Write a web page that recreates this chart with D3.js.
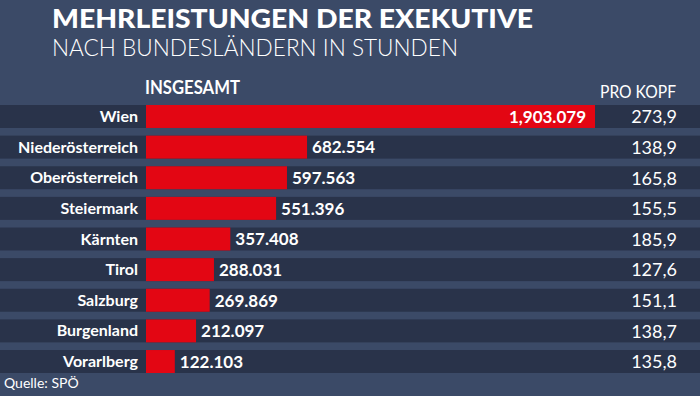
<!DOCTYPE html>
<html>
<head>
<meta charset="utf-8">
<script src="https://cdn.jsdelivr.net/npm/d3@7"></script>
<style>
  html, body { margin: 0; padding: 0; background: #3a4966; }
  svg { display: block; }
  text { font-family: Lato, "Open Sans", sans-serif; fill: #fff; }
</style>
</head>
<body>
<div id="chart"></div>
<script>
// data
const states = ["Wien", "Niederösterreich", "Oberösterreich", "Steiermark", "Kärnten",
                "Tirol", "Salzburg", "Burgenland", "Vorarlberg"];
const totals = [1903079, 682554, 597563, 551396, 357408, 288031, 269869, 212097, 122103];
const totalLabels = ["1,903.079", "682.554", "597.563", "551.396", "357.408",
                     "288.031", "269.869", "212.097", "122.103"];
const perHead = ["273,9", "138,9", "165,8", "155,5", "185,9", "127,6", "151,1", "138,7", "135,8"];

const width = 700, height = 396;
const svg = d3.select("#chart").append("svg")
    .attr("width", width)
    .attr("height", height);

svg.append("rect").attr("width", width).attr("height", height).attr("fill", "#3b4a67");

const rows = states.map((s, i) => ({state: s, total: totals[i], label: totalLabels[i], head: perHead[i]}));

const y = d3.scaleBand()
    .domain(states)
    .range([105, 373])
    .paddingInner(0.25);

const x = d3.scaleLinear()
    .domain([0, 1903079])
    .range([146, 595]);

// title
svg.append("text")
    .attr("x", 52).attr("y", 28)
    .attr("textLength", 481).attr("lengthAdjust", "spacingAndGlyphs")
    .style("font-size", "26px").style("font-weight", 900)
    .text("MEHRLEISTUNGEN DER EXEKUTIVE");

svg.append("text")
    .attr("x", 52).attr("y", 56)
    .attr("textLength", 406).attr("lengthAdjust", "spacingAndGlyphs")
    .style("font-size", "23px").style("font-weight", 300)
    .text("NACH BUNDESLÄNDERN IN STUNDEN");

svg.append("text")
    .attr("x", 145).attr("y", 94)
    .attr("textLength", 95).attr("lengthAdjust", "spacingAndGlyphs")
    .style("font-size", "18px").style("font-weight", 700)
    .text("INSGESAMT");

svg.append("text")
    .attr("x", 600).attr("y", 98)
    .attr("textLength", 76).attr("lengthAdjust", "spacingAndGlyphs")
    .style("font-size", "18px")
    .text("PRO KOPF");

const row = svg.selectAll("g.row").data(rows)
    .enter().append("g")
    .attr("class", "row");

row.append("rect")
    .attr("x", 0)
    .attr("y", d => y(d.state))
    .attr("width", width)
    .attr("height", y.bandwidth())
    .attr("fill", "#29334a");

row.append("rect")
    .attr("x", x(0))
    .attr("y", d => y(d.state))
    .attr("width", d => x(d.total) - x(0))
    .attr("height", y.bandwidth())
    .attr("fill", "#e30613");

row.append("text")
    .attr("x", 138)
    .attr("y", d => y(d.state) + y.bandwidth() / 2)
    .attr("dy", "0.35em")
    .attr("text-anchor", "end")
    .style("font-size", "16px").style("font-weight", 700)
    .text(d => d.state);

row.append("text")
    .attr("x", (d, i) => i === 0 ? x(d.total) - 9 : x(d.total) + 5)
    .attr("y", d => y(d.state) + y.bandwidth() / 2)
    .attr("dy", "0.37em")
    .attr("text-anchor", (d, i) => i === 0 ? "end" : "start")
    .style("font-size", "17px").style("font-weight", 700)
    .text(d => d.label);

row.append("text")
    .attr("x", 677)
    .attr("y", d => y(d.state) + y.bandwidth() / 2)
    .attr("dy", "0.38em")
    .attr("text-anchor", "end")
    .style("font-size", "18px")
    .text(d => d.head);

svg.append("text")
    .attr("x", 4).attr("y", 388)
    .style("font-size", "14px")
    .text("Quelle: SPÖ");
</script>
</body>
</html>
